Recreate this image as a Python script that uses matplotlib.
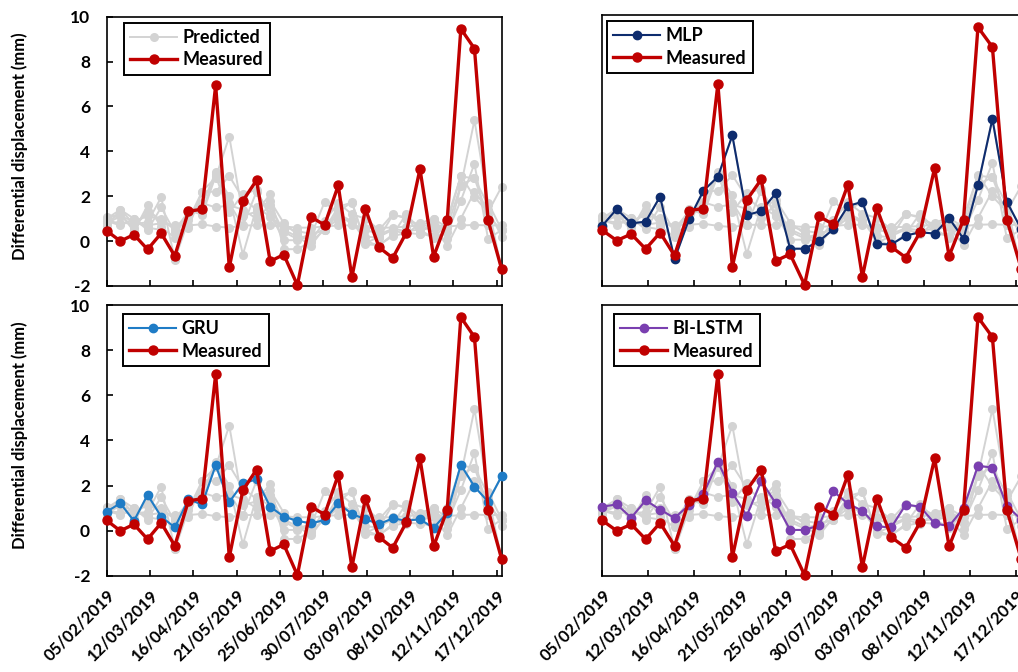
import matplotlib

matplotlib.use("Agg")
import matplotlib.dates as mdates
import matplotlib.pyplot as plt
import numpy as np
import pandas as pd

plt.rcParams["font.family"] = ["Lato", "DejaVu Sans"]
plt.rcParams["font.weight"] = "bold"
plt.rcParams["axes.unicode_minus"] = False

# acquisition dates (one point every 11 days)
DATES = pd.to_datetime([
    "2019-02-05", "2019-02-16", "2019-02-27", "2019-03-10", "2019-03-21",
    "2019-04-01", "2019-04-12", "2019-04-23", "2019-05-04", "2019-05-15",
    "2019-05-26", "2019-06-06", "2019-06-17", "2019-06-28", "2019-07-09",
    "2019-07-20", "2019-07-31", "2019-08-11", "2019-08-22", "2019-09-02",
    "2019-09-13", "2019-09-24", "2019-10-05", "2019-10-16", "2019-10-27",
    "2019-11-07", "2019-11-18", "2019-11-29", "2019-12-10", "2019-12-21",
])
TICK_DATES = pd.to_datetime([
    "2019-02-05", "2019-03-12", "2019-04-16", "2019-05-21", "2019-06-25",
    "2019-07-30", "2019-09-03", "2019-10-08", "2019-11-12", "2019-12-17",
])

measured = [0.46, 0.00, 0.29, -0.37, 0.35, -0.66, 1.33, 1.42, 6.94, -1.17,
            1.80, 2.71, -0.90, -0.60, -1.96, 1.07, 0.72, 2.48, -1.61, 1.43,
            -0.28, -0.75, 0.38, 3.21, -0.69, 0.93, 9.46, 8.58, 0.93, -1.26]
mlp = [0.66, 1.40, 0.76, 0.84, 1.95, -0.82, 0.94, 2.21, 2.83, 4.66,
       1.13, 1.31, 2.09, -0.36, -0.36, -0.03, 0.51, 1.53, 1.72, -0.15,
       -0.17, 0.22, 0.37, 0.31, 0.99, 0.08, 2.45, 5.39, 1.72, 0.50]
gru = [0.85, 1.22, 0.44, 1.59, 0.63, 0.15, 1.39, 1.17, 2.90, 1.28,
       2.10, 2.28, 1.07, 0.63, 0.44, 0.33, 0.48, 1.22, 0.75, 0.51,
       0.30, 0.55, 0.45, 0.51, 0.13, 0.80, 2.92, 1.96, 1.29, 2.43]
bilstm = [1.07, 1.17, 0.58, 1.35, 0.94, 0.57, 1.14, 1.63, 3.06, 1.68,
          0.67, 2.21, 1.22, 0.04, 0.04, 0.24, 1.75, 1.20, 0.89, 0.20,
          0.15, 1.16, 1.07, 0.33, 0.21, 1.00, 2.88, 2.80, 1.10, 0.50]
# remaining models, only shown in grey
other_a = [0.90, 0.80, 0.80, 0.70, 0.80, 0.70, 0.70, 0.75, 0.65, 0.60,
           0.70, 0.70, 0.70, 0.65, 0.60, 0.60, 0.65, 0.70, 0.70, 0.60,
           0.60, 0.60, 0.65, 0.70, 0.70, 0.65, 0.70, 0.72, 0.70, 0.70]
other_b = [1.00, 1.40, 1.00, 0.50, 1.50, 0.40, 0.60, 2.20, 2.20, 2.90,
           1.90, 1.40, 1.80, 0.80, 0.30, 0.00, 0.90, 1.70, 1.20, 1.00,
           0.50, 1.20, 1.00, 0.70, 0.90, 0.40, 1.80, 3.45, 0.10, 0.50]
other_c = [0.80, 1.10, 0.90, 1.10, 1.00, 0.50, 1.30, 1.30, 3.00, 2.00,
           -0.60, 1.50, 1.10, 0.50, 0.20, -0.20, 0.60, 1.30, 1.75, -0.10,
           0.20, 0.50, 0.30, 0.80, 1.00, 0.60, 2.50, 2.80, 1.60, -1.30]
other_d = [0.90, 0.70, 1.00, 0.60, 0.50, -0.80, 1.10, 1.70, 1.50, 1.60,
           1.40, 1.00, 1.60, 0.40, 0.10, 0.30, 0.50, 1.00, 0.90, 0.00,
           -0.20, 0.30, 1.20, 0.50, 0.60, -0.20, 1.00, 2.20, 1.40, 0.20]

GREY_SERIES = [other_a, other_b, other_c, other_d, bilstm, gru, mlp]
GREY = "#D3D3D3"
RED = "#C00000"

W, H = 1018, 672
# panel boxes in pixels: left, top, right, bottom
PANELS = [
    dict(box=(106.7, 16.7, 501.7, 286.0), name="Predicted", values=None, color=GREY,
         legend=(0.044, 0.978), ylabels=True),
    dict(box=(602.3, 15.0, 1021.3, 285.7), name="MLP", values=mlp, color="#0E2C6E",
         legend=(0.011, 0.978), ylabels=False),
    dict(box=(106.7, 305.0, 501.7, 576.0), name="GRU", values=gru, color="#1F7CC6",
         legend=(0.041, 0.967), ylabels=True),
    dict(box=(602.3, 305.0, 1021.3, 576.0), name="BI-LSTM", values=bilstm, color="#7A3FB0",
         legend=(0.028, 0.967), ylabels=False),
]


def draw_panel(fig, spec, bottom_row):
    l, t, r, b = spec["box"]
    ax = fig.add_axes([l / W, 1 - b / H, (r - l) / W, (b - t) / H])

    for series in GREY_SERIES:
        ax.plot(DATES, series, color=GREY, lw=1.4, marker="o", ms=5.5, clip_on=False, zorder=2)
    if spec["values"] is not None:
        ax.plot(DATES, spec["values"], color=spec["color"], lw=1.5, marker="o", ms=6,
                clip_on=False, zorder=3, label=spec["name"])
    else:
        ax.plot([], [], color=GREY, lw=1.4, marker="o", ms=5.5, label=spec["name"])
    ax.plot(DATES, measured, color=RED, lw=2.4, marker="o", ms=6.5, clip_on=False,
            zorder=4, label="Measured")

    ax.set_xlim(DATES[0], DATES[-1])
    ax.set_ylim(-2, 10)
    ax.set_yticks(np.arange(-2, 11, 2))
    ax.set_xticks(TICK_DATES)
    ax.xaxis.set_major_formatter(mdates.DateFormatter("%d/%m/%Y"))

    for side in ["left", "right", "top", "bottom"]:
        ax.spines[side].set_linewidth(1.2)
    ax.tick_params(axis="x", direction="in", length=4.5, width=1.2, labelsize=12, pad=8)
    if spec["ylabels"]:
        ax.tick_params(axis="y", direction="in", length=4.5, width=1.2, labelsize=12.5, pad=12)
        ax.set_ylabel("Differential displacement (mm)", fontsize=12, fontweight="bold")
        ax.yaxis.set_label_coords(-0.199, 0.52)
    else:
        ax.tick_params(axis="y", length=0, labelleft=False)

    if bottom_row:
        for lab in ax.get_xticklabels():
            lab.set_rotation(45)
            lab.set_ha("right")
            lab.set_va("top")
            lab.set_rotation_mode("anchor")
    else:
        ax.tick_params(axis="x", labelbottom=False)

    leg = ax.legend(loc="upper left", bbox_to_anchor=spec["legend"], borderaxespad=0,
                    fancybox=False, framealpha=1, edgecolor="black", handlelength=2.6,
                    prop={"size": 13, "weight": "bold"}, labelspacing=0.3,
                    borderpad=0.35, handletextpad=0.3)
    leg.get_frame().set_linewidth(1.4)
    return ax


def main() -> None:
    fig = plt.figure(figsize=(W / 100, H / 100), dpi=100)
    for i, spec in enumerate(PANELS):
        draw_panel(fig, spec, bottom_row=i >= 2)
    fig.savefig("out.png", dpi=100)
    plt.close(fig)


if __name__ == "__main__":
    main()
